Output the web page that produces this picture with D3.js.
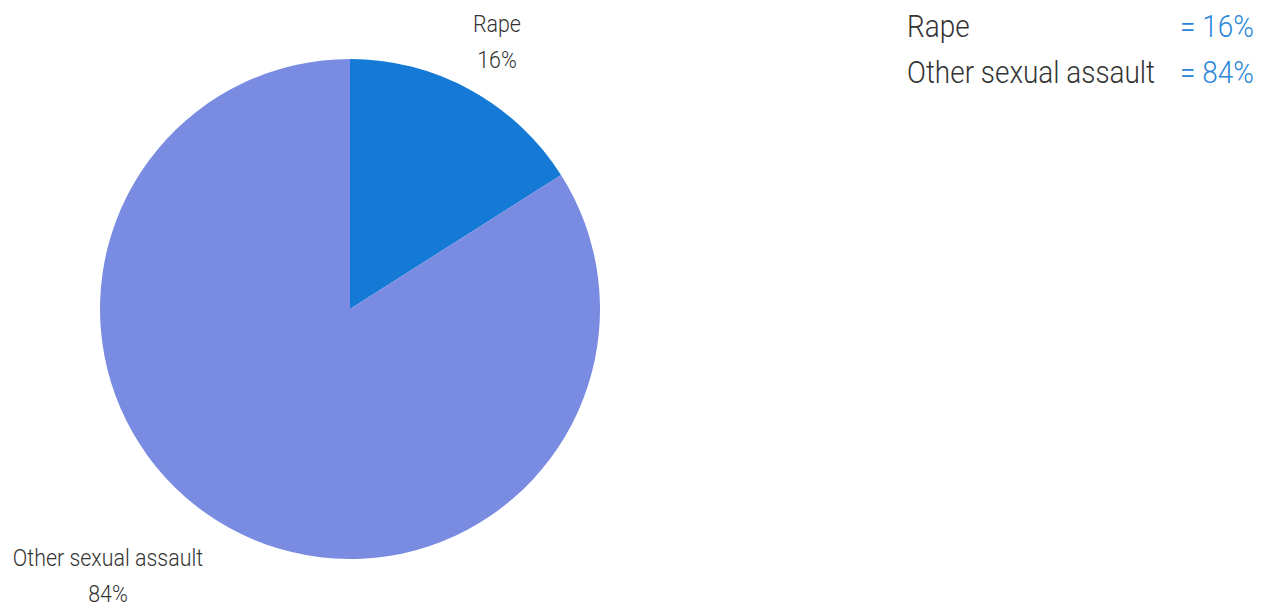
<!DOCTYPE html>
<html><head><meta charset="utf-8">
<script src="https://cdn.jsdelivr.net/npm/d3@7"></script>
<style>
html,body{margin:0;padding:0;background:#fff;}
text{font-family:Roboto,"Open Sans",sans-serif;font-weight:300;}
</style></head>
<body><svg id="chart" width="1270" height="610"></svg>
<script>
const categories = ["Rape", "Other sexual assault"];
const values = [16, 84];
const colors = ["#157ad6", "#7a8be2"];

const svg = d3.select("#chart");
const cx = 350, cy = 309, R = 250, LR = 305;
const data = categories.map((c, i) => ({cat: c, val: values[i], color: colors[i]}));
const pie = d3.pie().sort(null).value(d => d.val);
const arcs = pie(data);
const arc = d3.arc().innerRadius(0).outerRadius(R);
const labelArc = d3.arc().innerRadius(LR).outerRadius(LR);
const g = svg.append("g").attr("transform", `translate(${cx},${cy})`);
g.selectAll("path").data(arcs).join("path")
  .attr("d", arc).attr("fill", d => d.data.color);

function condense(sel, f) {
  const w = sel.node().getComputedTextLength();
  sel.attr("textLength", w * f).attr("lengthAdjust", "spacingAndGlyphs");
  return w * f;
}

const lab = g.selectAll("g.lab").data(arcs).join("g").attr("class", "lab");
lab.each(function(d) {
  const [x, y] = labelArc.centroid(d);
  const gg = d3.select(this);
  const t1 = gg.append("text").attr("text-anchor", "middle").attr("font-size", 23).attr("fill", "#333")
    .attr("x", x).attr("y", y - 10).text(d.data.cat);
  const t2 = gg.append("text").attr("text-anchor", "middle").attr("font-size", 23).attr("fill", "#333")
    .attr("x", x).attr("y", y + 26).text(d.data.val + "%");
  const w1 = condense(t1, 0.93), w2 = condense(t2, 0.93);
  if (x < 0) {
    const w = Math.max(w1, w2);
    gg.attr("transform", `translate(${-w / 2},0)`);
  }
});

const leg = svg.append("g");
data.forEach((d, i) => {
  const y = 37 + i * 46;
  const a = leg.append("text").attr("x", 907).attr("y", y).attr("font-size", 31).attr("fill", "#333").text(d.cat);
  condense(a, 0.9);
  const b = leg.append("text").attr("x", 1180).attr("y", y).attr("font-size", 31).attr("fill", "#2a86d8").text("= " + d.val + "%");
  condense(b, 0.9);
});
</script></body></html>
